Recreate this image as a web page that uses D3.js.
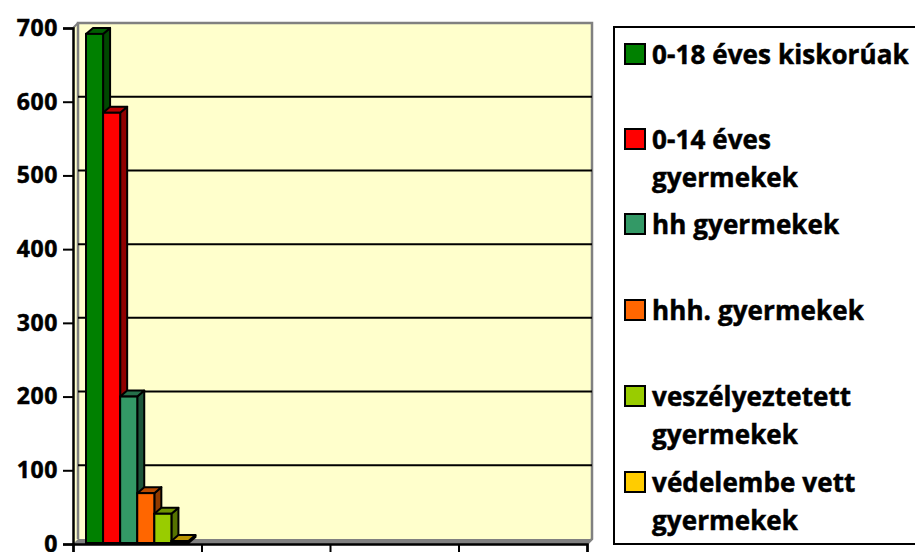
<!DOCTYPE html>
<html>
<head>
<meta charset="utf-8">
<script src="https://cdn.jsdelivr.net/npm/d3@7"></script>
<style>
  html, body { margin: 0; padding: 0; background: #fff; }
  svg { display: block; }
  text { font-family: "Open Sans", Lato, sans-serif; font-weight: 700; fill: #000; stroke: #000; stroke-width: 0.5px; }
</style>
</head>
<body>
<svg id="chart" width="915" height="552"></svg>
<script>
// ---- data ----
const categories = ["c1", "c2", "c3", "c4"];
const seriesNames = ["0-18 éves kiskorúak", "0-14 éves gyermekek", "hh gyermekek",
                     "hhh. gyermekek", "veszélyeztetett gyermekek", "védelembe vett gyermekek"];
const legendLines = [["0-18 éves kiskorúak"], ["0-14 éves", "gyermekek"], ["hh gyermekek"],
                     ["hhh. gyermekek"], ["veszélyeztetett", "gyermekek"], ["védelembe vett", "gyermekek"]];
const seriesValues = [692, 585, 200, 69, 41, 4];   // all in first category
const seriesColors = ["#008000", "#FF0000", "#339966", "#FF6600", "#99CC00", "#FFCC00"];
const yTicks = [0, 100, 200, 300, 400, 500, 600, 700];

// ---- layout ----
const svg = d3.select("#chart");
const X0 = 73, X1 = 587, Y0 = 544, Y1 = 28;
const wdx = 5, wdy = -5;     // wall depth
const bdx = 7, bdy = -6;     // bar depth

const y = d3.scaleLinear().domain([0, 700]).range([Y0, Y1]);
const xBand = d3.scaleBand().domain(categories).range([X0, X1]).paddingInner(0).paddingOuter(0);
const xLin = d3.scaleLinear().domain([0, categories.length]).range([X0, X1]);
const inner = d3.scaleBand().domain(d3.range(seriesNames.length))
  .range([13, xBand.bandwidth() - 13]).padding(0);

const pts = a => a.map(p => p.join(",")).join(" ");

// floor
svg.append("polygon")
  .attr("points", pts([[X0, Y0], [X1, Y0], [X1 + wdx, Y0 + wdy], [X0 + wdx, Y0 + wdy]]))
  .attr("fill", "#808080").attr("stroke", "#808080").attr("stroke-width", 1);
// side wall (left)
svg.append("polygon")
  .attr("points", pts([[X0, Y0], [X0, Y1], [X0 + wdx, Y1 + wdy], [X0 + wdx, Y0 + wdy]]))
  .attr("fill", "#FFFFCC").attr("stroke", "none");
svg.append("line").attr("x1", X0).attr("y1", Y1).attr("x2", X0 + wdx).attr("y2", Y1 + wdy)
  .attr("stroke", "#808080").attr("stroke-width", 2);
// back wall
svg.append("rect")
  .attr("x", X0 + wdx).attr("y", Y1 + wdy)
  .attr("width", X1 - X0).attr("height", Y0 - Y1)
  .attr("fill", "#FFFFCC");
svg.append("polyline")
  .attr("points", pts([[X0 + wdx, Y0 + wdy], [X0 + wdx, Y1 + wdy], [X1 + wdx, Y1 + wdy], [X1 + wdx, Y0 + wdy], [X1, Y0]]))
  .attr("fill", "none").attr("stroke", "#808080").attr("stroke-width", 2.5);

// gridlines on back wall
svg.append("g").selectAll("line")
  .data(yTicks.filter(t => t > 0 && t < 700))
  .join("line")
  .attr("x1", X0 + wdx).attr("x2", X1 + wdx)
  .attr("y1", d => y(d) + wdy).attr("y2", d => y(d) + wdy)
  .attr("stroke", "#000").attr("stroke-width", 2);

// bars
const gBars = svg.append("g");
seriesValues.forEach((v, i) => {
  const c = d3.color(seriesColors[i]);
  const xl = xBand(categories[0]) + inner(i);
  const xr = xl + inner.bandwidth();
  const yt = y(v), yb = Y0 - 1;
  const g = gBars.append("g");
  g.append("polygon")
    .attr("points", pts([[xr, yb], [xr, yt], [xr + bdx, yt + bdy], [xr + bdx, yb + bdy]]))
    .attr("fill", c.darker(1.6)).attr("stroke", "#000").attr("stroke-width", 2).attr("stroke-linejoin", "round");
  g.append("polygon")
    .attr("points", pts([[xl, yt], [xr, yt], [xr + bdx, yt + bdy], [xl + bdx, yt + bdy]]))
    .attr("fill", c.darker(0.9)).attr("stroke", "#000").attr("stroke-width", 2).attr("stroke-linejoin", "round");
  g.append("rect")
    .attr("x", xl).attr("y", yt).attr("width", xr - xl).attr("height", yb - yt)
    .attr("fill", seriesColors[i]).attr("stroke", "#000").attr("stroke-width", 2);
});

// y axis
const yAxis = svg.append("g").attr("transform", `translate(${X0},0)`)
  .call(d3.axisLeft(y).tickValues(yTicks).tickSize(10).tickPadding(5).tickFormat(d3.format("d")));
yAxis.select(".domain").attr("stroke", "#000").attr("stroke-width", 2.5);
yAxis.selectAll(".tick line").attr("stroke", "#000").attr("stroke-width", 2);
yAxis.selectAll(".tick text").style("font-size", "23px").style("font-family", "'Open Sans', sans-serif")
  .style("font-weight", 700).style("letter-spacing", "0.6px").attr("fill", "#000")
  .attr("stroke", "#000").attr("stroke-width", 0.5);

// x axis
const xAxis = svg.append("g").attr("transform", `translate(0,${Y0})`)
  .call(d3.axisBottom(xLin).tickValues(d3.range(categories.length + 1)).tickSize(9).tickFormat(() => ""));
xAxis.select(".domain").attr("stroke", "#000").attr("stroke-width", 2.5);
xAxis.selectAll(".tick line").attr("stroke", "#000").attr("stroke-width", 2);

// legend
const LX = 614, LY = 27;
svg.append("rect").attr("x", LX).attr("y", LY).attr("width", 330).attr("height", 517)
  .attr("fill", "#fff").attr("stroke", "#000").attr("stroke-width", 2);
const entryY = [54, 139, 224, 310, 396, 482];
const lineH = 38;
legendLines.forEach((lines, i) => {
  const cy = entryY[i];
  svg.append("rect").attr("x", 625).attr("y", cy - 10).attr("width", 20).attr("height", 20)
    .attr("fill", seriesColors[i]).attr("stroke", "#000").attr("stroke-width", 2);
  lines.forEach((t, j) => {
    svg.append("text").attr("x", 652).attr("y", cy + j * lineH)
      .attr("dominant-baseline", "central")
      .style("font-size", "26px").style("letter-spacing", "0.1px").text(t);
  });
});
</script>
</body>
</html>
